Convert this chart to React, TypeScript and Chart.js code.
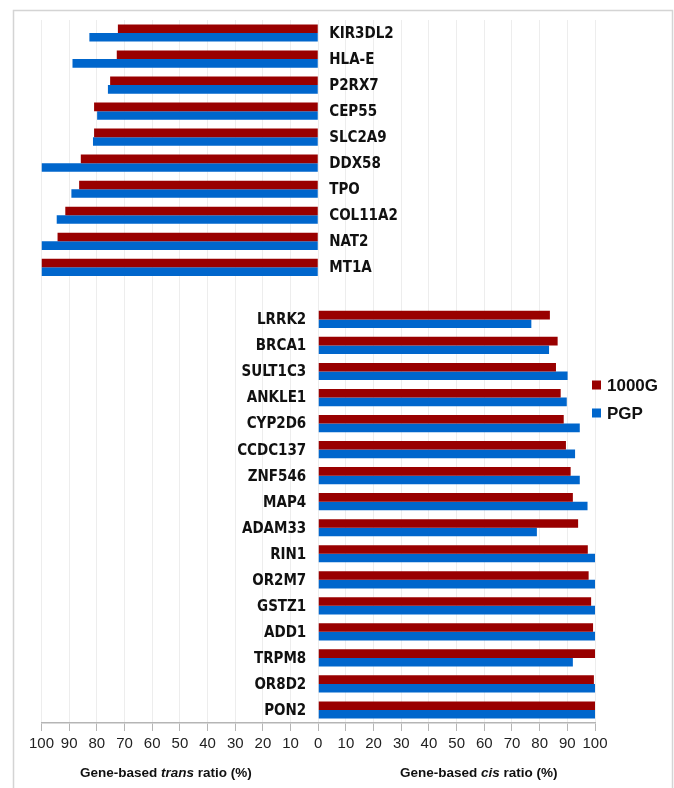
import React, { useEffect, useRef } from "react";
import { Chart, registerables } from "chart.js";

Chart.register(...registerables);

const transGenes = ["KIR3DL2", "HLA-E", "P2RX7", "CEP55", "SLC2A9", "DDX58", "TPO", "COL11A2", "NAT2", "MT1A"];
const trans1000G = [72.4, 72.8, 75.2, 81.0, 81.0, 85.8, 86.4, 91.4, 94.2, 100];
const transPGP = [82.7, 88.8, 76.0, 79.9, 81.4, 100, 89.2, 94.5, 100, 100];

const cisGenes = ["LRRK2", "BRCA1", "SULT1C3", "ANKLE1", "CYP2D6", "CCDC137", "ZNF546", "MAP4", "ADAM33", "RIN1", "OR2M7", "GSTZ1", "ADD1", "TRPM8", "OR8D2", "PON2"];
const cis1000G = [83.7, 86.5, 85.9, 87.6, 88.7, 89.5, 91.2, 92.0, 93.9, 97.4, 97.7, 98.6, 99.3, 100, 99.6, 100];
const cisPGP = [77.0, 83.4, 90.1, 89.8, 94.5, 92.8, 94.5, 97.3, 79.0, 100, 100, 100, 100, 92.0, 100, 100];

const seriesNames = ["1000G", "PGP"];
const seriesColors = ["#990000", "#0066CC"];
const xTicksMin = -100;
const xTicksMax = 100;
const xStep = 10;

const allLabels = [...transGenes, "", ...cisGenes];
const data1000G = [...trans1000G.map((v) => -v), null, ...cis1000G];
const dataPGP = [...transPGP.map((v) => -v), null, ...cisPGP];

const GENE_FONT = "bold 15px 'Liberation Sans Narrow', 'DejaVu Sans Condensed', Arial, sans-serif";
const TITLE_FAMILY = "'Liberation Sans', Arial, sans-serif";

const overlayPlugin = {
  id: "overlay",
  beforeDraw(chart: any) {
    const ctx = chart.ctx;
    ctx.save();
    ctx.fillStyle = "#ffffff";
    ctx.fillRect(0, 0, chart.width, chart.height);
    ctx.strokeStyle = "#d4d4d4";
    ctx.lineWidth = 1.5;
    ctx.strokeRect(13.5, 10.5, 659, 820);
    ctx.restore();
  },
  afterDraw(chart: any) {
    const ctx = chart.ctx;
    const xs = chart.scales.x;
    const ys = chart.scales.y;
    const zero = xs.getPixelForValue(0);
    ctx.save();
    ctx.font = GENE_FONT;
    ctx.fillStyle = "#111111";
    ctx.textBaseline = "middle";
    allLabels.forEach((lab, i) => {
      if (!lab) return;
      const y = ys.getPixelForValue(i) + 1;
      if (i < transGenes.length) {
        ctx.textAlign = "left";
        ctx.fillText(lab, zero + 11, y);
      } else {
        ctx.textAlign = "right";
        ctx.fillText(lab, zero - 12, y);
      }
    });
    const legendY = [385, 413];
    seriesNames.forEach((name, k) => {
      ctx.fillStyle = seriesColors[k];
      ctx.fillRect(592, legendY[k] - 4.5, 9, 9);
      ctx.fillStyle = "#111111";
      ctx.font = "bold 17px " + TITLE_FAMILY;
      ctx.textAlign = "left";
      ctx.fillText(name, 607, legendY[k] + 1);
    });
    const drawTitle = (parts: [string, boolean][], cx: number, cy: number) => {
      const fonts = parts.map(([, it]) => (it ? "italic bold 13.5px " : "bold 13.5px ") + TITLE_FAMILY);
      let total = 0;
      const widths = parts.map(([t], j) => {
        ctx.font = fonts[j];
        const w = ctx.measureText(t).width;
        total += w;
        return w;
      });
      let x = cx - total / 2;
      ctx.textAlign = "left";
      ctx.fillStyle = "#111111";
      parts.forEach(([t], j) => {
        ctx.font = fonts[j];
        ctx.fillText(t, x, cy);
        x += widths[j];
      });
    };
    const leftCenter = xs.getPixelForValue(-50);
    const rightCenter = xs.getPixelForValue(58);
    drawTitle([["Gene-based ", false], ["trans", true], [" ratio (%)", false]], leftCenter - 14, 773);
    drawTitle([["Gene-based ", false], ["cis", true], [" ratio (%)", false]], rightCenter, 773);
    ctx.restore();
  },
};

export default function App() {
  const ref = useRef<HTMLCanvasElement | null>(null);
  useEffect(() => {
    if (!ref.current) return;
    const chart = new Chart(ref.current, {
      type: "bar",
      data: {
        labels: allLabels,
        datasets: [
          { label: seriesNames[0], data: data1000G as any, backgroundColor: seriesColors[0], borderWidth: 0 },
          { label: seriesNames[1], data: dataPGP as any, backgroundColor: seriesColors[1], borderWidth: 0 },
        ],
      },
      options: {
        indexAxis: "y",
        responsive: false,
        animation: false,
        devicePixelRatio: 1,
        layout: { padding: { left: 41.5, right: 79, top: 20, bottom: 31 } },
        datasets: { bar: { categoryPercentage: 0.66, barPercentage: 1.0 } },
        plugins: { legend: { display: false }, tooltip: { enabled: false } },
        scales: {
          x: {
            min: xTicksMin,
            max: xTicksMax,
            ticks: {
              stepSize: xStep,
              autoSkip: false,
              maxRotation: 0,
              padding: 4,
              color: "#222222",
              font: { family: "'Liberation Sans', Arial, sans-serif", size: 15 },
              callback: (v: any) => String(Math.abs(Number(v))),
            },
            grid: { color: "#ededed", tickColor: "#b5b5b5", tickLength: 8, lineWidth: 1 },
            border: { color: "#b5b5b5", width: 1.5 },
          },
          y: { display: false, grid: { display: false } },
        },
      },
      plugins: [overlayPlugin],
    });
    return () => chart.destroy();
  }, []);
  return (
    <div style={{ position: "absolute", left: 0, top: 0, width: 674, height: 788 }}>
      <canvas ref={ref} width={674} height={788} style={{ width: 674, height: 788, display: "block" }} />
    </div>
  );
}
